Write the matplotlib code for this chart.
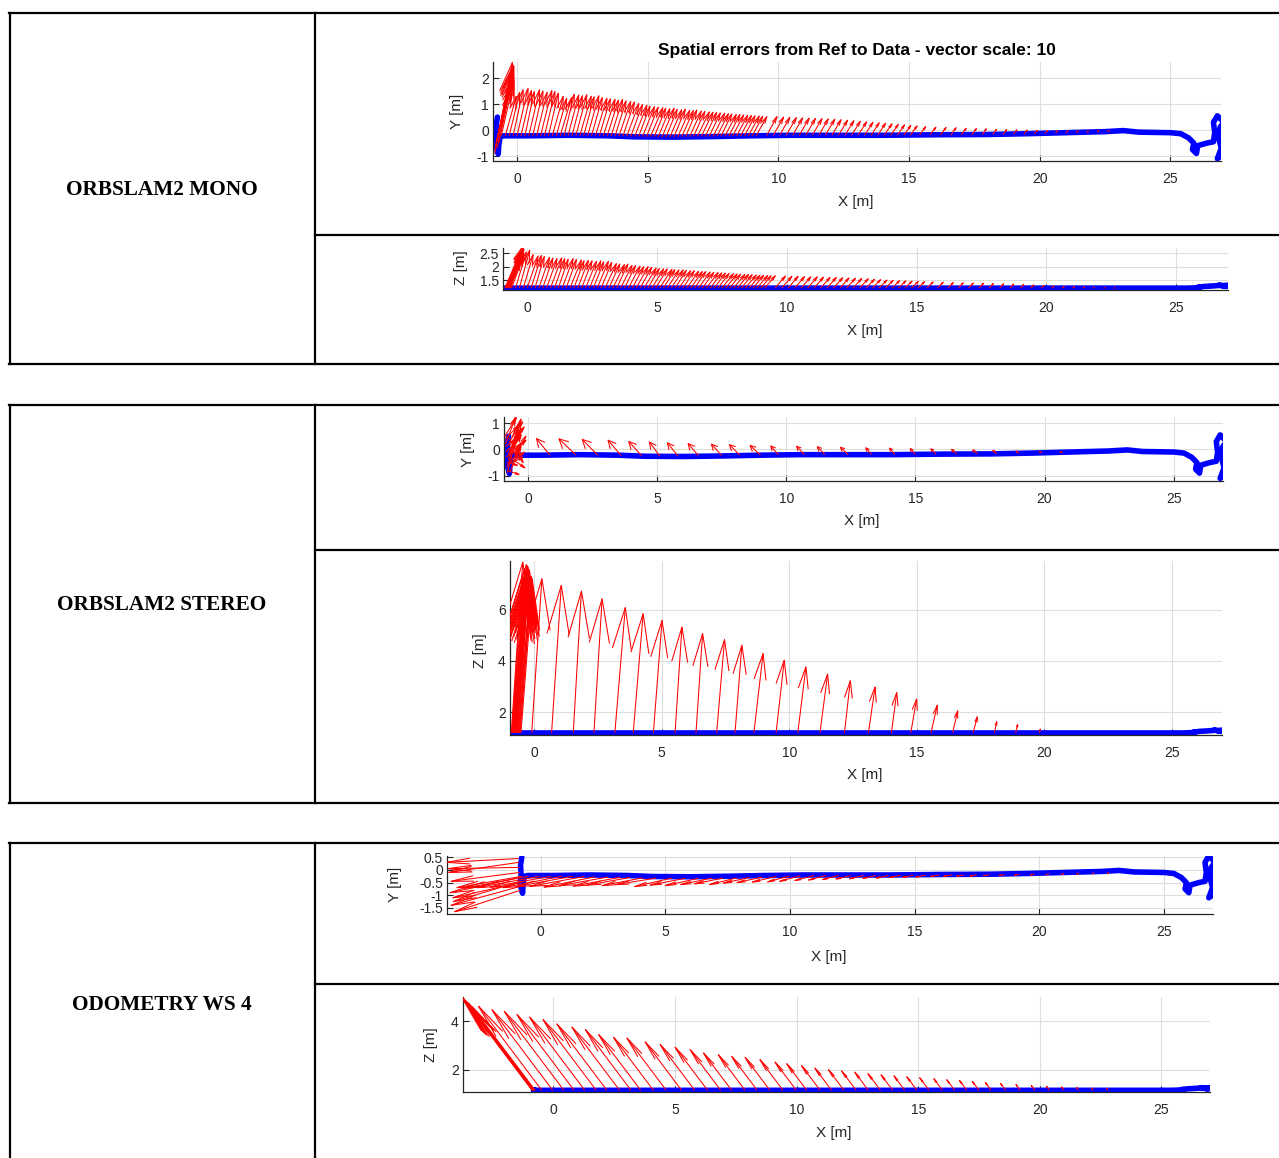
import numpy as np
import matplotlib.pyplot as plt
from matplotlib.collections import LineCollection
from matplotlib.lines import Line2D

plt.rcParams['font.family'] = ['Liberation Sans', 'DejaVu Sans']
plt.rcParams['axes.unicode_minus'] = False

W, H = 1279, 1158
TITLE = 'Spatial errors from Ref to Data - vector scale: 10'
ROW_LABELS = ['ORBSLAM2 MONO', 'ORBSLAM2 STEREO', 'ODOMETRY WS 4']
X_TICKS = [0, 5, 10, 15, 20, 25]

# reference trajectory (blue), shared by all panels
ref_x = [-0.75, -0.80, -0.78, -0.82, -0.72, -0.70, -0.65, -0.50, 0.5, 2.0, 3.5, 4.5, 6.0,
         7.5, 9.0, 10.5, 12.0, 14.0, 16.0, 18.0, 19.5, 21.0, 22.5, 23.2, 23.8, 25.0, 25.4,
         25.7, 25.9, 25.85, 26.0, 26.05, 26.4, 26.65, 26.7, 26.65, 26.8, 27.05, 26.9, 26.85,
         26.95, 26.8, 26.95]
ref_y = [0.50, 0.20, -0.20, -0.55, -0.92, -0.60, -0.25, -0.22, -0.22, -0.20, -0.22, -0.26, -0.27,
         -0.25, -0.22, -0.20, -0.20, -0.20, -0.18, -0.17, -0.14, -0.10, -0.06, -0.02, -0.08, -0.10, -0.14,
         -0.30, -0.50, -0.75, -0.90, -0.60, -0.50, -0.45, -0.10, 0.30, 0.55, 0.30, 0.10, -0.30,
         -0.70, -1.10, -1.00]
ref_z = [1.20, 1.20, 1.20, 1.20, 1.20, 1.20, 1.20, 1.20, 1.20, 1.20, 1.20, 1.20, 1.20,
         1.20, 1.20, 1.20, 1.20, 1.20, 1.20, 1.20, 1.20, 1.20, 1.20, 1.20, 1.20, 1.20, 1.20,
         1.21, 1.22, 1.24, 1.25, 1.26, 1.28, 1.30, 1.30, 1.31, 1.30, 1.30, 1.29, 1.28,
         1.28, 1.27, 1.26]

# ORBSLAM2 mono error vectors (already multiplied by the vector scale)
mono_x = [-0.86, -0.84, -0.82, -0.80, -0.78, -0.76, -0.74, -0.72, -0.70, -0.68, -0.65, -0.60,
          -0.45, -0.30, -0.15, 0.00, 0.15, 0.30, 0.45, 0.60, 0.75, 0.90,
          1.05, 1.20, 1.35, 1.50, 1.65, 1.80, 1.95, 2.10, 2.25, 2.40,
          2.55, 2.70, 2.85, 3.00, 3.15, 3.30, 3.45, 3.60, 3.75, 3.90,
          4.05, 4.20, 4.35, 4.50, 4.65, 4.80, 4.95, 5.10, 5.25, 5.40,
          5.55, 5.70, 5.85, 6.00, 6.15, 6.30, 6.45, 6.60, 6.75, 6.90,
          7.05, 7.20, 7.35, 7.50, 7.65, 7.80, 7.95, 8.10, 8.25, 8.40,
          8.55, 8.70, 8.85, 9.00, 9.15,
          9.55, 9.80, 10.05, 10.30, 10.55, 10.80, 11.05, 11.30, 11.55, 11.80,
          12.05, 12.30, 12.55, 12.80, 13.05, 13.30, 13.55, 13.80, 14.05, 14.30,
          14.55, 14.80, 15.05,
          15.40, 15.80, 16.20, 16.60, 17.00, 17.40, 17.80, 18.20, 18.60, 19.00,
          19.40, 19.80, 20.20, 20.60, 21.00, 21.40, 21.80, 22.20, 22.60]
mono_dx = [0.68, 0.66, 0.60, 0.65, 0.58, 0.62, 0.52, 0.60, 0.45, 0.55, 0.40, 0.48,
           0.42, 0.40, 0.38, 0.42, 0.40, 0.36, 0.41, 0.39, 0.40, 0.43,
           0.40, 0.38, 0.42, 0.40, 0.44, 0.39, 0.41, 0.40, 0.42, 0.44,
           0.40, 0.43, 0.41, 0.44, 0.42, 0.45, 0.43, 0.44, 0.42, 0.45,
           0.44, 0.46, 0.45, 0.47, 0.44, 0.46, 0.45, 0.48, 0.44, 0.45,
           0.46, 0.43, 0.45, 0.44, 0.46, 0.45, 0.43, 0.45, 0.44, 0.46,
           0.45, 0.44, 0.43, 0.45, 0.44, 0.42, 0.44, 0.43, 0.42, 0.43,
           0.42, 0.41, 0.42, 0.40, 0.41,
           0.40, 0.40, 0.39, 0.39, 0.38, 0.38, 0.37, 0.37, 0.36, 0.36,
           0.35, 0.35, 0.34, 0.34, 0.33, 0.32, 0.31, 0.30, 0.30, 0.29,
           0.28, 0.27, 0.26,
           0.24, 0.23, 0.22, 0.20, 0.19, 0.18, 0.16, 0.15, 0.14, 0.13,
           0.12, 0.11, 0.10, 0.09, 0.08, 0.07, 0.06, 0.06, 0.05]
mono_y0 = [-0.90, -0.75, -0.60, -0.50, -0.40, -0.70, -0.30, -0.20, -0.50, -0.10, 0.10, -0.20,
           -0.22, -0.22, -0.22, -0.22, -0.22, -0.22, -0.22, -0.22, -0.22, -0.22,
           -0.22, -0.22, -0.22, -0.22, -0.22, -0.22, -0.22, -0.22, -0.22, -0.22,
           -0.22, -0.22, -0.22, -0.22, -0.22, -0.22, -0.22, -0.23, -0.23, -0.23,
           -0.24, -0.24, -0.25, -0.25, -0.25, -0.26, -0.26, -0.26, -0.26, -0.27,
           -0.27, -0.27, -0.27, -0.27, -0.26, -0.26, -0.26, -0.26, -0.25, -0.25,
           -0.25, -0.25, -0.25, -0.25, -0.24, -0.24, -0.24, -0.24, -0.23, -0.23,
           -0.23, -0.23, -0.22, -0.22, -0.22,
           -0.21, -0.21, -0.20, -0.20, -0.20, -0.20, -0.20, -0.20, -0.20, -0.20,
           -0.20, -0.20, -0.20, -0.20, -0.20, -0.20, -0.20, -0.20, -0.20, -0.20,
           -0.20, -0.20, -0.20,
           -0.19, -0.19, -0.19, -0.19, -0.18, -0.18, -0.18, -0.17, -0.17, -0.16,
           -0.15, -0.14, -0.13, -0.12, -0.11, -0.10, -0.09, -0.08, -0.07]
mono_y1 = [2.60, 2.40, 2.20, 2.50, 2.00, 2.30, 1.80, 2.45, 1.60, 2.10, 1.50, 1.90,
           1.30, 1.45, 1.55, 1.60, 1.52, 1.48, 1.55, 1.50, 1.45, 1.52,
           1.48, 1.42, 1.30, 1.22, 1.25, 1.38, 1.35, 1.32, 1.36, 1.30,
           1.28, 1.32, 1.25, 1.22, 1.20, 1.18, 1.15, 1.18, 1.12, 1.10,
           1.08, 1.02, 0.98, 0.95, 0.92, 0.90, 0.88, 0.86, 0.84, 0.82,
           0.84, 0.80, 0.78, 0.80, 0.76, 0.75, 0.77, 0.73, 0.72, 0.70,
           0.69, 0.68, 0.66, 0.65, 0.63, 0.62, 0.60, 0.60, 0.58, 0.57,
           0.56, 0.55, 0.54, 0.53, 0.52,
           0.52, 0.50, 0.49, 0.48, 0.47, 0.46, 0.45, 0.44, 0.43, 0.42,
           0.40, 0.38, 0.36, 0.34, 0.32, 0.30, 0.28, 0.26, 0.24, 0.22,
           0.20, 0.18, 0.16,
           0.13, 0.11, 0.10, 0.09, 0.07, 0.06, 0.05, 0.03, 0.02, 0.01,
           0.00, -0.01, -0.02, -0.03, -0.03, -0.03, -0.03, -0.02, -0.02]
mono_z0 = 1.2
mono_z1 = [2.74, 2.68, 2.55, 2.70, 2.50, 2.60, 2.40, 2.65, 2.30, 2.50, 2.20, 2.45,
           2.55, 2.62, 2.45, 2.40, 2.42, 2.38, 2.35, 2.32, 2.30, 2.33,
           2.30, 2.28, 2.30, 2.27, 2.25, 2.22, 2.24, 2.22, 2.20, 2.22,
           2.18, 2.20, 2.16, 2.12, 2.10, 2.08, 2.10, 2.05, 2.04, 2.02,
           2.00, 2.00, 1.98, 1.95, 1.93, 1.92, 1.92, 1.90, 1.89, 1.88,
           1.88, 1.86, 1.85, 1.85, 1.83, 1.82, 1.82, 1.80, 1.79, 1.78,
           1.77, 1.76, 1.75, 1.74, 1.73, 1.72, 1.71, 1.71, 1.70, 1.69,
           1.68, 1.68, 1.67, 1.66, 1.66,
           1.65, 1.64, 1.64, 1.63, 1.62, 1.62, 1.61, 1.60, 1.60, 1.59,
           1.58, 1.57, 1.56, 1.55, 1.53, 1.52, 1.50, 1.49, 1.48, 1.47,
           1.46, 1.45, 1.44,
           1.43, 1.42, 1.41, 1.40, 1.39, 1.38, 1.37, 1.36, 1.35, 1.34,
           1.32, 1.30, 1.28, 1.26, 1.25, 1.24, 1.23, 1.22, 1.21]

# ORBSLAM2 stereo: tangle of vectors at the start
stereo_start_x = [-0.90, -0.88, -0.87, -0.86, -0.85, -0.84, -0.83, -0.82, -0.81, -0.80,
                  -0.79, -0.78, -0.77, -0.76, -0.75, -0.74, -0.73, -0.72, -0.71, -0.70,
                  -0.68, -0.66, -0.64, -0.62, -0.60, -0.58, -0.55, -0.52]
stereo_start_dx = [0.45, 0.50, 0.40, 0.55, 0.48, 0.52, 0.42, 0.56, 0.46, 0.50,
                   0.38, 0.53, 0.44, 0.49, 0.41, 0.55, 0.45, 0.36, 0.50, 0.43,
                   0.47, 0.40, 0.52, 0.35, 0.45, 0.50, 0.40, 0.44]
stereo_start_y0 = [0.50, 0.40, 0.20, 0.10, -0.10, -0.30, -0.50, -0.70, -0.80, -0.90,
                   0.30, 0.00, -0.20, -0.40, -0.60, 0.45, 0.15, -0.25, -0.55, -0.85,
                   0.35, -0.05, -0.35, -0.65, 0.25, -0.15, -0.45, -0.20]
stereo_start_y1 = [1.20, 0.90, 1.25, 0.60, 0.40, 0.20, -0.60, 0.80, -0.95, 1.10,
                   0.30, -0.20, 0.70, 1.15, 0.00, -0.50, 0.45, 0.95, -0.30, 0.10,
                   1.05, 0.55, -0.70, 0.25, 0.85, 0.35, -0.10, 0.50]
stereo_start_z1 = [7.85, 7.60, 7.30, 7.75, 7.00, 7.50, 6.80, 7.70, 7.20, 7.40,
                   6.60, 7.65, 7.10, 7.35, 6.90, 7.55, 7.25, 6.50, 7.45, 7.05,
                   7.15, 6.70, 7.30, 6.40, 6.95, 7.20, 6.60, 6.85]
# stereo X-Z view vectors
stereo_z_x = [-0.10, 0.68, 1.53, 2.34, 3.16, 3.88, 4.67, 5.52, 6.34, 7.15, 7.87, 8.61, 9.48,
              10.33, 11.20, 12.16, 13.10, 14.00, 14.76, 15.55, 16.40, 17.20, 18.04, 18.87, 19.80]
stereo_z_dx = [0.40, 0.38, 0.32, 0.32, 0.41, 0.39, 0.34, 0.27, 0.26, 0.31, 0.27, 0.36, 0.32,
               0.32, 0.30, 0.23, 0.26, 0.21, 0.23, 0.25, 0.20, 0.17, 0.09, 0.08, 0.04]
stereo_z0 = 1.2
stereo_z1 = [7.20, 6.94, 6.72, 6.42, 6.08, 5.84, 5.58, 5.32, 5.07, 4.83, 4.61, 4.29, 4.03,
             3.77, 3.49, 3.23, 2.99, 2.77, 2.52, 2.28, 2.06, 1.83, 1.64, 1.53, 1.35]
# stereo X-Y view vectors (hooks above the trajectory)
stereo_y_x = [0.84, 1.85, 2.70, 3.60, 4.40, 5.10, 5.80, 6.60, 7.50, 8.20, 9.00, 9.70, 10.70,
              11.50, 12.40, 13.30, 14.20, 15.00, 15.80, 16.60, 17.40, 18.15, 19.00, 19.90, 20.70]
stereo_y_dx = [-0.51, -0.65, -0.60, -0.50, -0.50, -0.40, -0.40, -0.40, -0.40, -0.40, -0.40,
               -0.30, -0.30, -0.30, -0.30, -0.22, -0.20, -0.20, -0.20, -0.20, -0.18, -0.15,
               -0.10, -0.10, -0.10]
stereo_y0 = [-0.21, -0.21, -0.22, -0.23, -0.24, -0.25, -0.25, -0.24, -0.23, -0.22, -0.22, -0.21,
             -0.20, -0.20, -0.20, -0.20, -0.19, -0.19, -0.18, -0.18, -0.17, -0.16, -0.15, -0.14,
             -0.13]
stereo_y1 = [0.41, 0.40, 0.38, 0.35, 0.30, 0.28, 0.25, 0.22, 0.20, 0.18, 0.15, 0.13, 0.12,
             0.10, 0.08, 0.06, 0.05, 0.03, 0.02, 0.00, -0.02, -0.04, -0.06, -0.08, -0.09]

# odometry error vectors
odo_x = [-0.88, -0.86, -0.85, -0.84, -0.83, -0.82, -0.81, -0.80, -0.78, -0.75,
         -0.48, -0.03, 0.43, 0.85, 1.29, 1.76, 2.20, 2.72, 3.19, 3.59, 4.11, 4.64, 5.27,
         5.81, 6.34, 6.88, 7.33, 7.88, 8.38, 8.90, 9.44, 9.99, 10.42, 10.97, 11.44,
         11.95, 12.45, 12.95, 13.45, 13.95, 14.45, 14.95, 15.45, 16.00, 16.50, 17.00,
         17.50, 18.00, 18.60, 19.20, 19.80, 20.40, 21.00, 21.60, 22.20, 22.80]
odo_dx = [-2.90, -2.82, -2.86, -2.75, -2.80, -2.70, -2.78, -2.65, -2.72, -2.60,
          -2.60, -2.50, -2.45, -2.35, -2.27, -2.19, -2.06, -1.96, -1.88, -1.73, -1.64, -1.62, -1.50,
          -1.42, -1.34, -1.26, -1.16, -1.10, -1.05, -1.02, -0.95, -0.88, -0.83, -0.77, -0.69,
          -0.64, -0.60, -0.56, -0.52, -0.48, -0.45, -0.42, -0.39, -0.36, -0.33, -0.30,
          -0.27, -0.24, -0.21, -0.18, -0.15, -0.13, -0.11, -0.09, -0.07, -0.05]
odo_y0 = [0.45, 0.30, 0.10, -0.10, -0.30, -0.50, -0.65, -0.80, -0.45, -0.25,
          -0.25, -0.25, -0.25, -0.25, -0.25, -0.26, -0.27, -0.28, -0.29, -0.30, -0.31, -0.32, -0.32,
          -0.33, -0.33, -0.32, -0.32, -0.31, -0.30, -0.28, -0.26, -0.24, -0.23, -0.22, -0.22,
          -0.22, -0.22, -0.22, -0.22, -0.22, -0.21, -0.21, -0.21, -0.20, -0.20, -0.20,
          -0.19, -0.19, -0.18, -0.17, -0.16, -0.15, -0.13, -0.12, -0.10, -0.08]
odo_y1 = [0.30, -0.10, 0.05, -0.45, -0.90, -1.10, -1.40, -1.65, -1.25, -0.70,
          -0.72, -0.70, -0.68, -0.70, -0.66, -0.65, -0.68, -0.62, -0.64, -0.60, -0.62, -0.58, -0.66,
          -0.60, -0.62, -0.58, -0.55, -0.58, -0.52, -0.50, -0.48, -0.47, -0.45, -0.42, -0.40,
          -0.38, -0.36, -0.35, -0.33, -0.32, -0.30, -0.29, -0.28, -0.26, -0.25, -0.24,
          -0.24, -0.23, -0.22, -0.21, -0.20, -0.19, -0.18, -0.17, -0.16, -0.15]
odo_z0 = 1.15
odo_z1 = [5.00, 4.90, 4.95, 4.80, 4.85, 4.72, 4.82, 4.65, 4.75, 4.60,
          4.62, 4.48, 4.41, 4.28, 4.17, 4.07, 3.89, 3.76, 3.66, 3.45, 3.34, 3.31, 3.15,
          3.04, 2.93, 2.83, 2.69, 2.62, 2.55, 2.51, 2.42, 2.32, 2.25, 2.17, 2.07,
          2.00, 1.95, 1.90, 1.84, 1.79, 1.75, 1.71, 1.67, 1.63, 1.59, 1.55,
          1.51, 1.47, 1.43, 1.39, 1.35, 1.32, 1.29, 1.27, 1.24, 1.22]


def px_rect(left, top, right, bottom):
    return [left / W, 1 - bottom / H, (right - left) / W, (bottom - top) / H]


def quiver_matlab(ax, x0, y0, dx, y1, alpha=0.33, beta=0.23):
    # MATLAB style open arrowheads drawn in data units
    x0 = np.asarray(x0, float)
    y0 = np.broadcast_to(np.asarray(y0, float), x0.shape)
    u = np.asarray(dx, float)
    v = np.asarray(y1, float) - y0
    segs = []
    for xa, ya, du, dv in zip(x0, y0, u, v):
        xt, yt = xa + du, ya + dv
        segs.append([(xa, ya), (xt, yt)])
        segs.append([(xt - alpha * (du + beta * dv), yt - alpha * (dv - beta * du)),
                     (xt, yt),
                     (xt - alpha * (du - beta * dv), yt - alpha * (dv + beta * du))])
    ax.add_collection(LineCollection(segs, colors='#ff0000', linewidths=0.75, zorder=3))


def make_panel(rect, xlim, ylim, yticks, ylabel, xlab_px, ylab_px):
    ax = fig.add_axes(px_rect(*rect))
    l, t, r, b = rect
    ax.set_xlim(xlim)
    ax.set_ylim(ylim)
    ax.set_xticks(X_TICKS)
    ax.set_yticks(yticks)
    ax.set_yticklabels(['%g' % v for v in yticks])
    for side in ['top', 'right']:
        ax.spines[side].set_visible(False)
    for side in ['left', 'bottom']:
        ax.spines[side].set_color('#262626')
        ax.spines[side].set_linewidth(0.9)
    ax.grid(True, color='#dedede', linewidth=0.8)
    ax.set_axisbelow(True)
    ax.tick_params(direction='in', length=4, width=0.8, colors='#262626',
                   labelsize=10, labelcolor='#262626')
    ax.tick_params(axis='x', pad=8)
    ax.tick_params(axis='y', pad=3)
    ax.set_xlabel('X [m]', fontsize=11, color='#262626')
    ax.set_ylabel(ylabel, fontsize=11, color='#262626')
    ax.xaxis.set_label_coords((xlab_px[0] - l) / (r - l), (b - xlab_px[1]) / (b - t))
    ax.yaxis.set_label_coords((ylab_px[0] - l) / (r - l), (b - ylab_px[1]) / (b - t))
    ax.xaxis.label.set_va('center')
    ax.yaxis.label.set_va('center')
    return ax


def draw_ref(ax, ys, shift=0.0):
    ax.plot(ref_x, [v + shift for v in ys], color='#0000ff', linewidth=4.0, zorder=2,
            solid_capstyle='round', solid_joinstyle='round')


fig = plt.figure(figsize=(W / 100, H / 100), dpi=100)


# table frame
def hline(y, x0, x1):
    fig.add_artist(Line2D([x0 / W, x1 / W], [1 - y / H, 1 - y / H], color='black',
                          linewidth=1.6, transform=fig.transFigure))


def vline(x, y0, y1):
    fig.add_artist(Line2D([x / W, x / W], [1 - y0 / H, 1 - y1 / H], color='black',
                          linewidth=1.6, transform=fig.transFigure))


rows = [(13, 235, 364), (405, 550, 803), (843, 984, 1160)]
for top, mid, bottom in rows:
    hline(top, 9, W)
    hline(bottom, 9, W)
    hline(mid, 315, W)
    vline(10, top, bottom)
    vline(315, top, bottom)

for label, ypx in zip(ROW_LABELS, [190, 605, 1005]):
    fig.text(162 / W, 1 - ypx / H, label, ha='center', va='center',
             family='Liberation Serif', weight='bold', fontsize=15.3)

# mono
ax1 = make_panel((493, 62, 1221, 161), (-0.92, 26.94), (-1.19, 2.62), [-1, 0, 1, 2],
                 'Y [m]', (856, 202), (457, 111))
draw_ref(ax1, ref_y)
quiver_matlab(ax1, mono_x, mono_y0, mono_dx, mono_y1)
ax1.set_title(TITLE, fontsize=12.5, weight='bold', color='#000000', pad=5)

ax2 = make_panel((503, 248, 1228, 290), (-0.93, 27.0), (1.13, 2.70), [1.5, 2, 2.5],
                 'Z [m]', (865, 331), (461, 268))
draw_ref(ax2, ref_z)
quiver_matlab(ax2, mono_x, mono_z0, mono_dx, mono_z1)

# stereo
ax3 = make_panel((504, 417, 1223, 481), (-0.93, 26.91), (-1.2, 1.23), [-1, 0, 1],
                 'Y [m]', (862, 521), (468, 449))
draw_ref(ax3, ref_y)
quiver_matlab(ax3, stereo_start_x, stereo_start_y0, stereo_start_dx, stereo_start_y1)
quiver_matlab(ax3, stereo_y_x, stereo_y0, stereo_y_dx, stereo_y1, alpha=0.4, beta=0.5)

ax4 = make_panel((510, 561, 1222, 735), (-0.95, 26.96), (1.12, 7.89), [2, 4, 6],
                 'Z [m]', (865, 775), (480, 651))
draw_ref(ax4, ref_z)
quiver_matlab(ax4, stereo_start_x, stereo_z0, stereo_start_dx, stereo_start_z1)
quiver_matlab(ax4, stereo_z_x, stereo_z0, stereo_z_dx, stereo_z1)

# odometry
ax5 = make_panel((447, 856, 1213, 914), (-3.75, 26.97), (-1.74, 0.55), [-1.5, -1, -0.5, 0, 0.5],
                 'Y [m]', (829, 957), (395, 884))
draw_ref(ax5, ref_y)
quiver_matlab(ax5, odo_x, odo_y0, odo_dx, odo_y1, beta=0.12)

ax6 = make_panel((463, 997, 1210, 1092), (-3.72, 27.0), (1.08, 5.0), [2, 4],
                 'Z [m]', (834, 1133), (431, 1045))
draw_ref(ax6, ref_z, shift=-0.05)
quiver_matlab(ax6, odo_x, odo_z0, odo_dx, odo_z1, beta=0.12)

fig.savefig('out.png', dpi=100)
